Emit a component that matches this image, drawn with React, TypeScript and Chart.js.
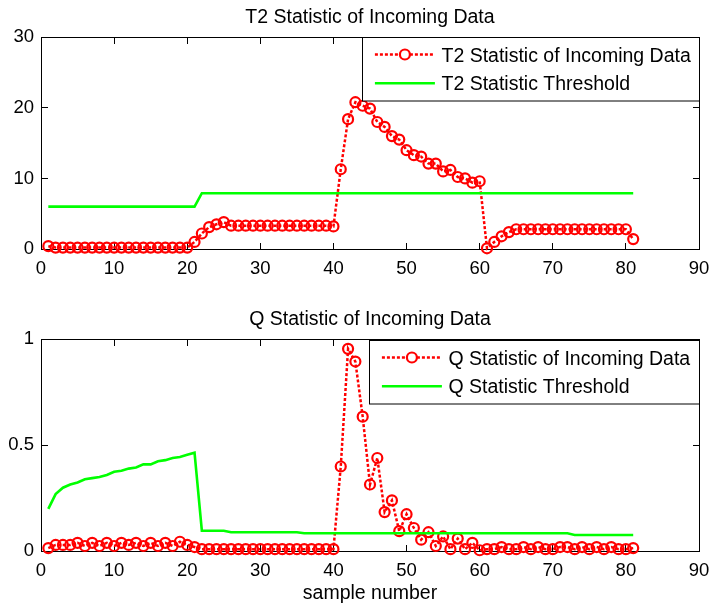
import React, { useEffect, useRef } from 'react';
import { Chart, registerables } from 'chart.js';

Chart.register(...registerables);

const FONT = '"Liberation Sans", Arial, Helvetica, sans-serif';
const TICK_SIZE = 18.5;
const TEXT_SIZE = 19.5;

// sample numbers (x axis)
const sampleNumbers = [
  1, 2, 3, 4, 5, 6, 7, 8, 9, 10,
  11, 12, 13, 14, 15, 16, 17, 18, 19, 20,
  21, 22, 23, 24, 25, 26, 27, 28, 29, 30,
  31, 32, 33, 34, 35, 36, 37, 38, 39, 40,
  41, 42, 43, 44, 45, 46, 47, 48, 49, 50,
  51, 52, 53, 54, 55, 56, 57, 58, 59, 60,
  61, 62, 63, 64, 65, 66, 67, 68, 69, 70,
  71, 72, 73, 74, 75, 76, 77, 78, 79, 80,
  81,
];

const t2Values = [
  0.4, 0.2, 0.2, 0.2, 0.2, 0.2, 0.2, 0.2, 0.2, 0.2,
  0.2, 0.2, 0.2, 0.2, 0.2, 0.2, 0.2, 0.2, 0.2, 0.2,
  1.0, 2.2, 3.1, 3.5, 3.8, 3.3, 3.3, 3.3, 3.3, 3.3,
  3.3, 3.3, 3.3, 3.3, 3.3, 3.3, 3.3, 3.3, 3.3, 3.2,
  11.3, 18.4, 20.8, 20.3, 19.9, 18.0, 17.3, 16.0, 15.5, 14.0,
  13.3, 13.1, 12.1, 12.1, 11.0, 11.2, 10.2, 10.0, 9.4, 9.6,
  0.1, 1.0, 1.8, 2.4, 2.8, 2.8, 2.8, 2.8, 2.8, 2.8,
  2.8, 2.8, 2.8, 2.8, 2.8, 2.8, 2.8, 2.8, 2.8, 2.8,
  1.4,
];

const t2Threshold = [
  6.0, 6.0, 6.0, 6.0, 6.0, 6.0, 6.0, 6.0, 6.0, 6.0,
  6.0, 6.0, 6.0, 6.0, 6.0, 6.0, 6.0, 6.0, 6.0, 6.0,
  6.0, 7.9, 7.9, 7.9, 7.9, 7.9, 7.9, 7.9, 7.9, 7.9,
  7.9, 7.9, 7.9, 7.9, 7.9, 7.9, 7.9, 7.9, 7.9, 7.9,
  7.9, 7.9, 7.9, 7.9, 7.9, 7.9, 7.9, 7.9, 7.9, 7.9,
  7.9, 7.9, 7.9, 7.9, 7.9, 7.9, 7.9, 7.9, 7.9, 7.9,
  7.9, 7.9, 7.9, 7.9, 7.9, 7.9, 7.9, 7.9, 7.9, 7.9,
  7.9, 7.9, 7.9, 7.9, 7.9, 7.9, 7.9, 7.9, 7.9, 7.9,
  7.9,
];

const qValues = [
  0.015, 0.03, 0.03, 0.03, 0.04, 0.025, 0.04, 0.025, 0.04, 0.025,
  0.04, 0.03, 0.04, 0.025, 0.04, 0.025, 0.04, 0.025, 0.045, 0.03,
  0.02, 0.01, 0.01, 0.01, 0.01, 0.01, 0.01, 0.01, 0.01, 0.01,
  0.01, 0.01, 0.01, 0.01, 0.01, 0.01, 0.01, 0.01, 0.01, 0.01,
  0.40, 0.955, 0.895, 0.635, 0.315, 0.44, 0.185, 0.24, 0.095, 0.175,
  0.11, 0.055, 0.09, 0.025, 0.07, 0.01, 0.06, 0.01, 0.04, 0.005,
  0.01, 0.01, 0.02, 0.01, 0.01, 0.02, 0.01, 0.02, 0.01, 0.01,
  0.02, 0.02, 0.01, 0.02, 0.01, 0.02, 0.01, 0.02, 0.01, 0.01,
  0.015,
];

const qThreshold = [
  0.20, 0.27, 0.30, 0.315, 0.325, 0.34, 0.345, 0.35, 0.36, 0.375,
  0.38, 0.39, 0.395, 0.41, 0.41, 0.425, 0.43, 0.44, 0.445, 0.455,
  0.465, 0.097, 0.097, 0.097, 0.097, 0.09, 0.09, 0.09, 0.09, 0.09,
  0.09, 0.09, 0.09, 0.09, 0.09, 0.085, 0.085, 0.085, 0.085, 0.085,
  0.085, 0.085, 0.085, 0.085, 0.085, 0.085, 0.085, 0.085, 0.085, 0.085,
  0.085, 0.085, 0.085, 0.085, 0.085, 0.085, 0.085, 0.085, 0.085, 0.085,
  0.085, 0.085, 0.085, 0.085, 0.085, 0.085, 0.085, 0.085, 0.085, 0.085,
  0.085, 0.085, 0.077, 0.077, 0.077, 0.077, 0.077, 0.077, 0.077, 0.077,
  0.077,
];

const xTickStep = 10;
const xRange = [0, 90];
const t2Range = [0, 30];
const t2Step = 10;
const qRange = [0, 1];
const qStep = 0.5;

const decorPlugin = {
  id: 'decor',
  beforeDatasetsDraw(chart: any) {
    const { ctx, chartArea: a, scales } = chart;
    const TL = 6.5;
    const L = Math.floor(a.left) + 0.5;
    const R = Math.floor(a.right) + 0.5;
    const T = Math.floor(a.top) + 0.5;
    const B = Math.floor(a.bottom) + 0.5;
    ctx.save();
    ctx.strokeStyle = '#000';
    ctx.lineWidth = 1;
    ctx.setLineDash([]);
    ctx.strokeRect(L, T, R - L, B - T);
    ctx.beginPath();
    scales.x.ticks.forEach((t: any) => {
      const px = Math.floor(scales.x.getPixelForValue(t.value)) + 0.5;
      ctx.moveTo(px, B);
      ctx.lineTo(px, B - TL);
      ctx.moveTo(px, T);
      ctx.lineTo(px, T + TL);
    });
    scales.y.ticks.forEach((t: any) => {
      const py = Math.floor(scales.y.getPixelForValue(t.value)) + 0.5;
      ctx.moveTo(L, py);
      ctx.lineTo(L + TL, py);
      ctx.moveTo(R, py);
      ctx.lineTo(R - TL, py);
    });
    ctx.stroke();
    ctx.restore();
  },
  afterDraw(chart: any, _args: any, opts: any) {
    const { ctx, chartArea: a } = chart;
    ctx.save();
    ctx.fillStyle = '#000';
    ctx.font = `${TEXT_SIZE}px ${FONT}`;
    ctx.textAlign = 'center';
    ctx.textBaseline = 'alphabetic';
    if (opts.title) {
      ctx.fillText(opts.title, (a.left + a.right) / 2, a.top - 14.6);
    }
    if (opts.xlabel) {
      ctx.fillText(opts.xlabel, (a.left + a.right) / 2, a.bottom + 48);
    }
    // legend inside the axes (north-east)
    const dss = chart.data.datasets;
    ctx.textAlign = 'left';
    const textW = Math.max(...dss.map((d: any) => ctx.measureText(d.label).width));
    const padL = 12.4, lineLen = 60, gap = 6.6, padR = 9.5, h = 63.5;
    const w = padL + lineLen + gap + textW + padR;
    const right = Math.floor(a.right) + 0.5;
    const top = Math.floor(a.top) + 0.5 + (opts.legendDy || 0);
    const left = Math.round(right - w) + 0.5;
    ctx.fillStyle = '#fff';
    ctx.fillRect(left, top, right - left, h);
    ctx.strokeStyle = '#000';
    ctx.lineWidth = 1;
    ctx.setLineDash([]);
    ctx.strokeRect(left, top, right - left, h);
    dss.forEach((d: any, i: number) => {
      const y = top + 17 + i * 28.8;
      const x1 = left + padL;
      const x2 = x1 + lineLen;
      ctx.save();
      ctx.strokeStyle = d.borderColor;
      ctx.lineWidth = d.borderWidth;
      ctx.setLineDash(d.borderDash || []);
      ctx.beginPath();
      ctx.moveTo(x1, y);
      ctx.lineTo(x2, y);
      ctx.stroke();
      if (d.pointRadius > 0) {
        ctx.setLineDash([]);
        ctx.lineWidth = d.pointBorderWidth;
        ctx.fillStyle = '#fff';
        ctx.beginPath();
        ctx.arc((x1 + x2) / 2, y, d.pointRadius, 0, Math.PI * 2);
        ctx.fill();
        ctx.stroke();
      }
      ctx.restore();
      ctx.fillStyle = '#000';
      ctx.fillText(d.label, x2 + gap, y + 7);
    });
    ctx.restore();
  },
};

function makeConfig(
  values: number[],
  threshold: number[],
  yRange: number[],
  yStep: number,
  labels: { data: string; thr: string; title: string; xlabel?: string },
  padTop: number,
  xScaleHeight: number,
  legendDy: number,
): any {
  const dataPts = sampleNumbers.map((x, i) => ({ x, y: values[i] }));
  const thrPts = sampleNumbers.map((x, i) => ({ x, y: threshold[i] }));
  return {
    type: 'line',
    data: {
      datasets: [
        {
          label: labels.data,
          data: dataPts,
          borderColor: '#ff0000',
          borderWidth: 2.5,
          borderDash: [3, 2],
          pointStyle: 'circle',
          pointRadius: 5,
          pointBorderWidth: 2.2,
          pointBorderColor: '#ff0000',
          pointBackgroundColor: 'rgba(0,0,0,0)',
          fill: false,
          tension: 0,
          clip: false,
          order: 1,
        },
        {
          label: labels.thr,
          data: thrPts,
          borderColor: '#00ff00',
          borderWidth: 2.6,
          pointRadius: 0,
          fill: false,
          tension: 0,
          clip: false,
          order: 0,
        },
      ],
    },
    options: {
      animation: false,
      responsive: false,
      devicePixelRatio: 1,
      layout: { padding: { top: padTop, right: 11, left: 0, bottom: 0 } },
      plugins: {
        legend: { display: false },
        tooltip: { enabled: false },
        title: { display: false },
        decor: { title: labels.title, xlabel: labels.xlabel, legendDy },
      },
      scales: {
        x: {
          type: 'linear',
          min: xRange[0],
          max: xRange[1],
          grid: { display: false, drawTicks: false },
          border: { display: false },
          ticks: {
            stepSize: xTickStep,
            color: '#000',
            font: { family: FONT, size: TICK_SIZE },
            padding: 9,
            maxRotation: 0,
            autoSkip: false,
          },
          afterFit: (s: any) => {
            s.height = xScaleHeight;
            s.paddingLeft = 0;
            s.paddingRight = 0;
            s.paddingTop = 0;
            s.paddingBottom = 0;
          },
        },
        y: {
          type: 'linear',
          min: yRange[0],
          max: yRange[1],
          grid: { display: false, drawTicks: false },
          border: { display: false },
          ticks: {
            stepSize: yStep,
            color: '#000',
            font: { family: FONT, size: TICK_SIZE },
            padding: 7,
            callback: (v: any) => String(v),
          },
          afterFit: (s: any) => {
            s.width = 41;
            s.paddingLeft = 0;
            s.paddingRight = 0;
            s.paddingTop = 0;
            s.paddingBottom = 0;
          },
        },
      },
    },
    plugins: [decorPlugin],
  };
}

function ChartCanvas({ config, top, height }: { config: any; top: number; height: number }) {
  const ref = useRef<HTMLCanvasElement>(null);
  useEffect(() => {
    const chart = new Chart(ref.current as HTMLCanvasElement, config);
    return () => chart.destroy();
  }, []);
  return (
    <canvas
      ref={ref}
      width={710}
      height={height}
      style={{ position: 'absolute', left: 0, top, width: 710, height, display: 'block' }}
    />
  );
}

export default function App() {
  const cfgT2 = makeConfig(
    t2Values,
    t2Threshold,
    t2Range,
    t2Step,
    {
      data: 'T2 Statistic of Incoming Data',
      thr: 'T2 Statistic Threshold',
      title: 'T2 Statistic of Incoming Data',
    },
    37.3,
    300 - 249,
    0,
  );
  const cfgQ = makeConfig(
    qValues,
    qThreshold,
    qRange,
    qStep,
    {
      data: 'Q Statistic of Incoming Data',
      thr: 'Q Statistic Threshold',
      title: 'Q Statistic of Incoming Data',
      xlabel: 'sample number',
    },
    39.3,
    310 - 251.3,
    1,
  );
  return (
    <div style={{ position: 'fixed', left: 0, top: 0, width: 710, height: 610, background: '#fff' }}>
      <ChartCanvas config={cfgT2} top={0} height={300} />
      <ChartCanvas config={cfgQ} top={300} height={310} />
    </div>
  );
}
